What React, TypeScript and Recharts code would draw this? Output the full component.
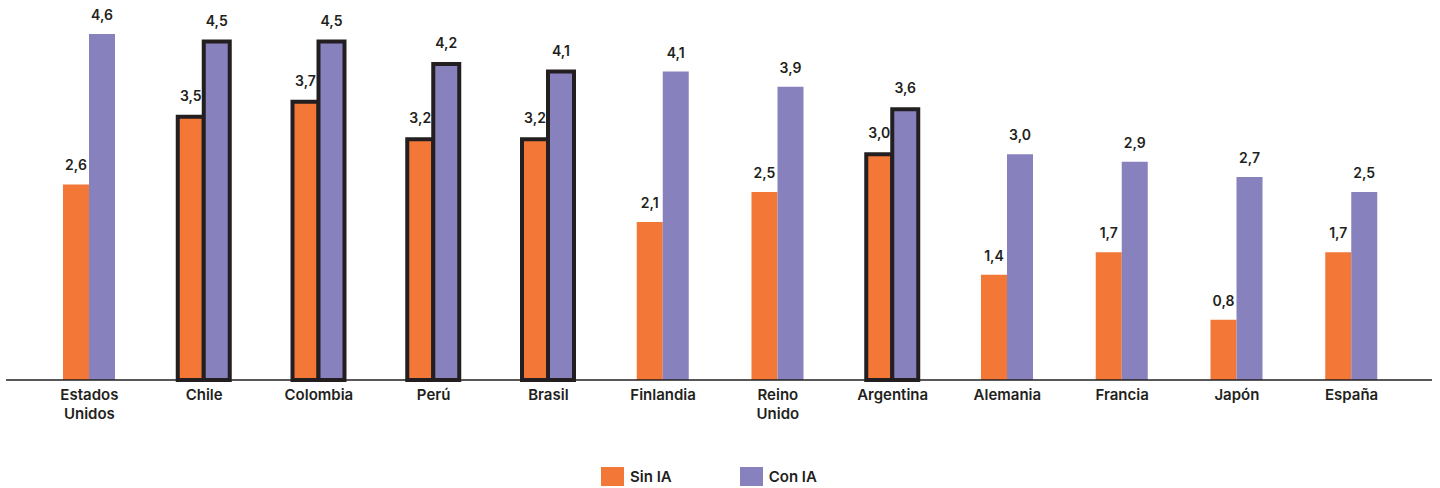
import React from 'react';
import { BarChart, Bar, XAxis, YAxis, Cell, LabelList } from 'recharts';

const countries = [
  'Estados Unidos',
  'Chile',
  'Colombia',
  'Perú',
  'Brasil',
  'Finlandia',
  'Reino Unido',
  'Argentina',
  'Alemania',
  'Francia',
  'Japón',
  'España',
];
const sinIA = [2.6, 3.5, 3.7, 3.2, 3.2, 2.1, 2.5, 3.0, 1.4, 1.7, 0.8, 1.7];
const conIA = [4.6, 4.5, 4.5, 4.2, 4.1, 4.1, 3.9, 3.6, 3.0, 2.9, 2.7, 2.5];
// countries drawn with a black outline
const highlighted = ['Chile', 'Colombia', 'Perú', 'Brasil', 'Argentina'];

const ORANGE = '#F37737';
const PURPLE = '#8781BD';
const INK = '#231F20';
const FONT = 'Inter, "Noto Sans", sans-serif';

const data = countries.map((name, i) => ({ name, sin: sinIA[i], con: conIA[i] }));

const fmt = (v: number) => v.toFixed(1).replace('.', ',');

const ValueLabel = (props: any) => {
  const { x, y, width, value, index } = props;
  // outlined bars need a little more room for the stroke
  const gap = highlighted.includes(countries[index]) ? 16 : 14;
  return (
    <text
      x={x + width / 2}
      y={y - gap}
      textAnchor="middle"
      fill={INK}
      fontFamily={FONT}
      fontSize={14}
      fontWeight={600}
    >
      {fmt(value)}
    </text>
  );
};

const CountryTick = (props: any) => {
  const { x, y, payload } = props;
  const lines = String(payload.value).split(' ');
  return (
    <text
      x={x}
      y={y}
      textAnchor="middle"
      fill={INK}
      fontFamily={FONT}
      fontSize={15}
      fontWeight={600}
    >
      {lines.map((l, i) => (
        <tspan key={l} x={x} dy={i === 0 ? 12 : 19}>
          {l}
        </tspan>
      ))}
    </text>
  );
};

const legendItems = [
  { label: 'Sin IA', color: ORANGE },
  { label: 'Con IA', color: PURPLE },
];

export default function App() {
  return (
    <div style={{ position: 'absolute', left: 0, top: 0, width: 1440, height: 488, background: '#fff' }}>
      <BarChart
        width={1440}
        height={440}
        data={data}
        margin={{ top: 34, right: 8, left: 6, bottom: 30 }}
        barSize={26}
        barGap={0}
      >
        <XAxis
          dataKey="name"
          interval={0}
          padding={{ left: 26, right: 23 }}
          tickLine={false}
          axisLine={{ stroke: INK, strokeWidth: 1.5 }}
          tick={<CountryTick />}
        />
        <YAxis hide domain={[0, 4.6]} />
        <Bar dataKey="sin" fill={ORANGE} isAnimationActive={false}>
          {data.map((d) => (
            <Cell
              key={`sin-${d.name}`}
              fill={ORANGE}
              stroke={highlighted.includes(d.name) ? INK : 'none'}
              strokeWidth={highlighted.includes(d.name) ? 4 : 0}
            />
          ))}
          <LabelList dataKey="sin" content={<ValueLabel />} />
        </Bar>
        <Bar dataKey="con" fill={PURPLE} isAnimationActive={false}>
          {data.map((d) => (
            <Cell
              key={`con-${d.name}`}
              fill={PURPLE}
              stroke={highlighted.includes(d.name) ? INK : 'none'}
              strokeWidth={highlighted.includes(d.name) ? 4 : 0}
            />
          ))}
          <LabelList dataKey="con" content={<ValueLabel />} />
        </Bar>
      </BarChart>
      <div
        style={{
          position: 'absolute',
          top: 467,
          left: 601,
          display: 'flex',
          alignItems: 'center',
          fontFamily: FONT,
          fontSize: 15,
          fontWeight: 600,
          color: INK,
        }}
      >
        {legendItems.map((it, i) => (
          <div key={it.label} style={{ display: 'flex', alignItems: 'center', marginLeft: i === 0 ? 0 : 68 }}>
            <span style={{ width: 23, height: 19, background: it.color, display: 'inline-block', marginRight: 6 }} />
            <span>{it.label}</span>
          </div>
        ))}
      </div>
    </div>
  );
}
